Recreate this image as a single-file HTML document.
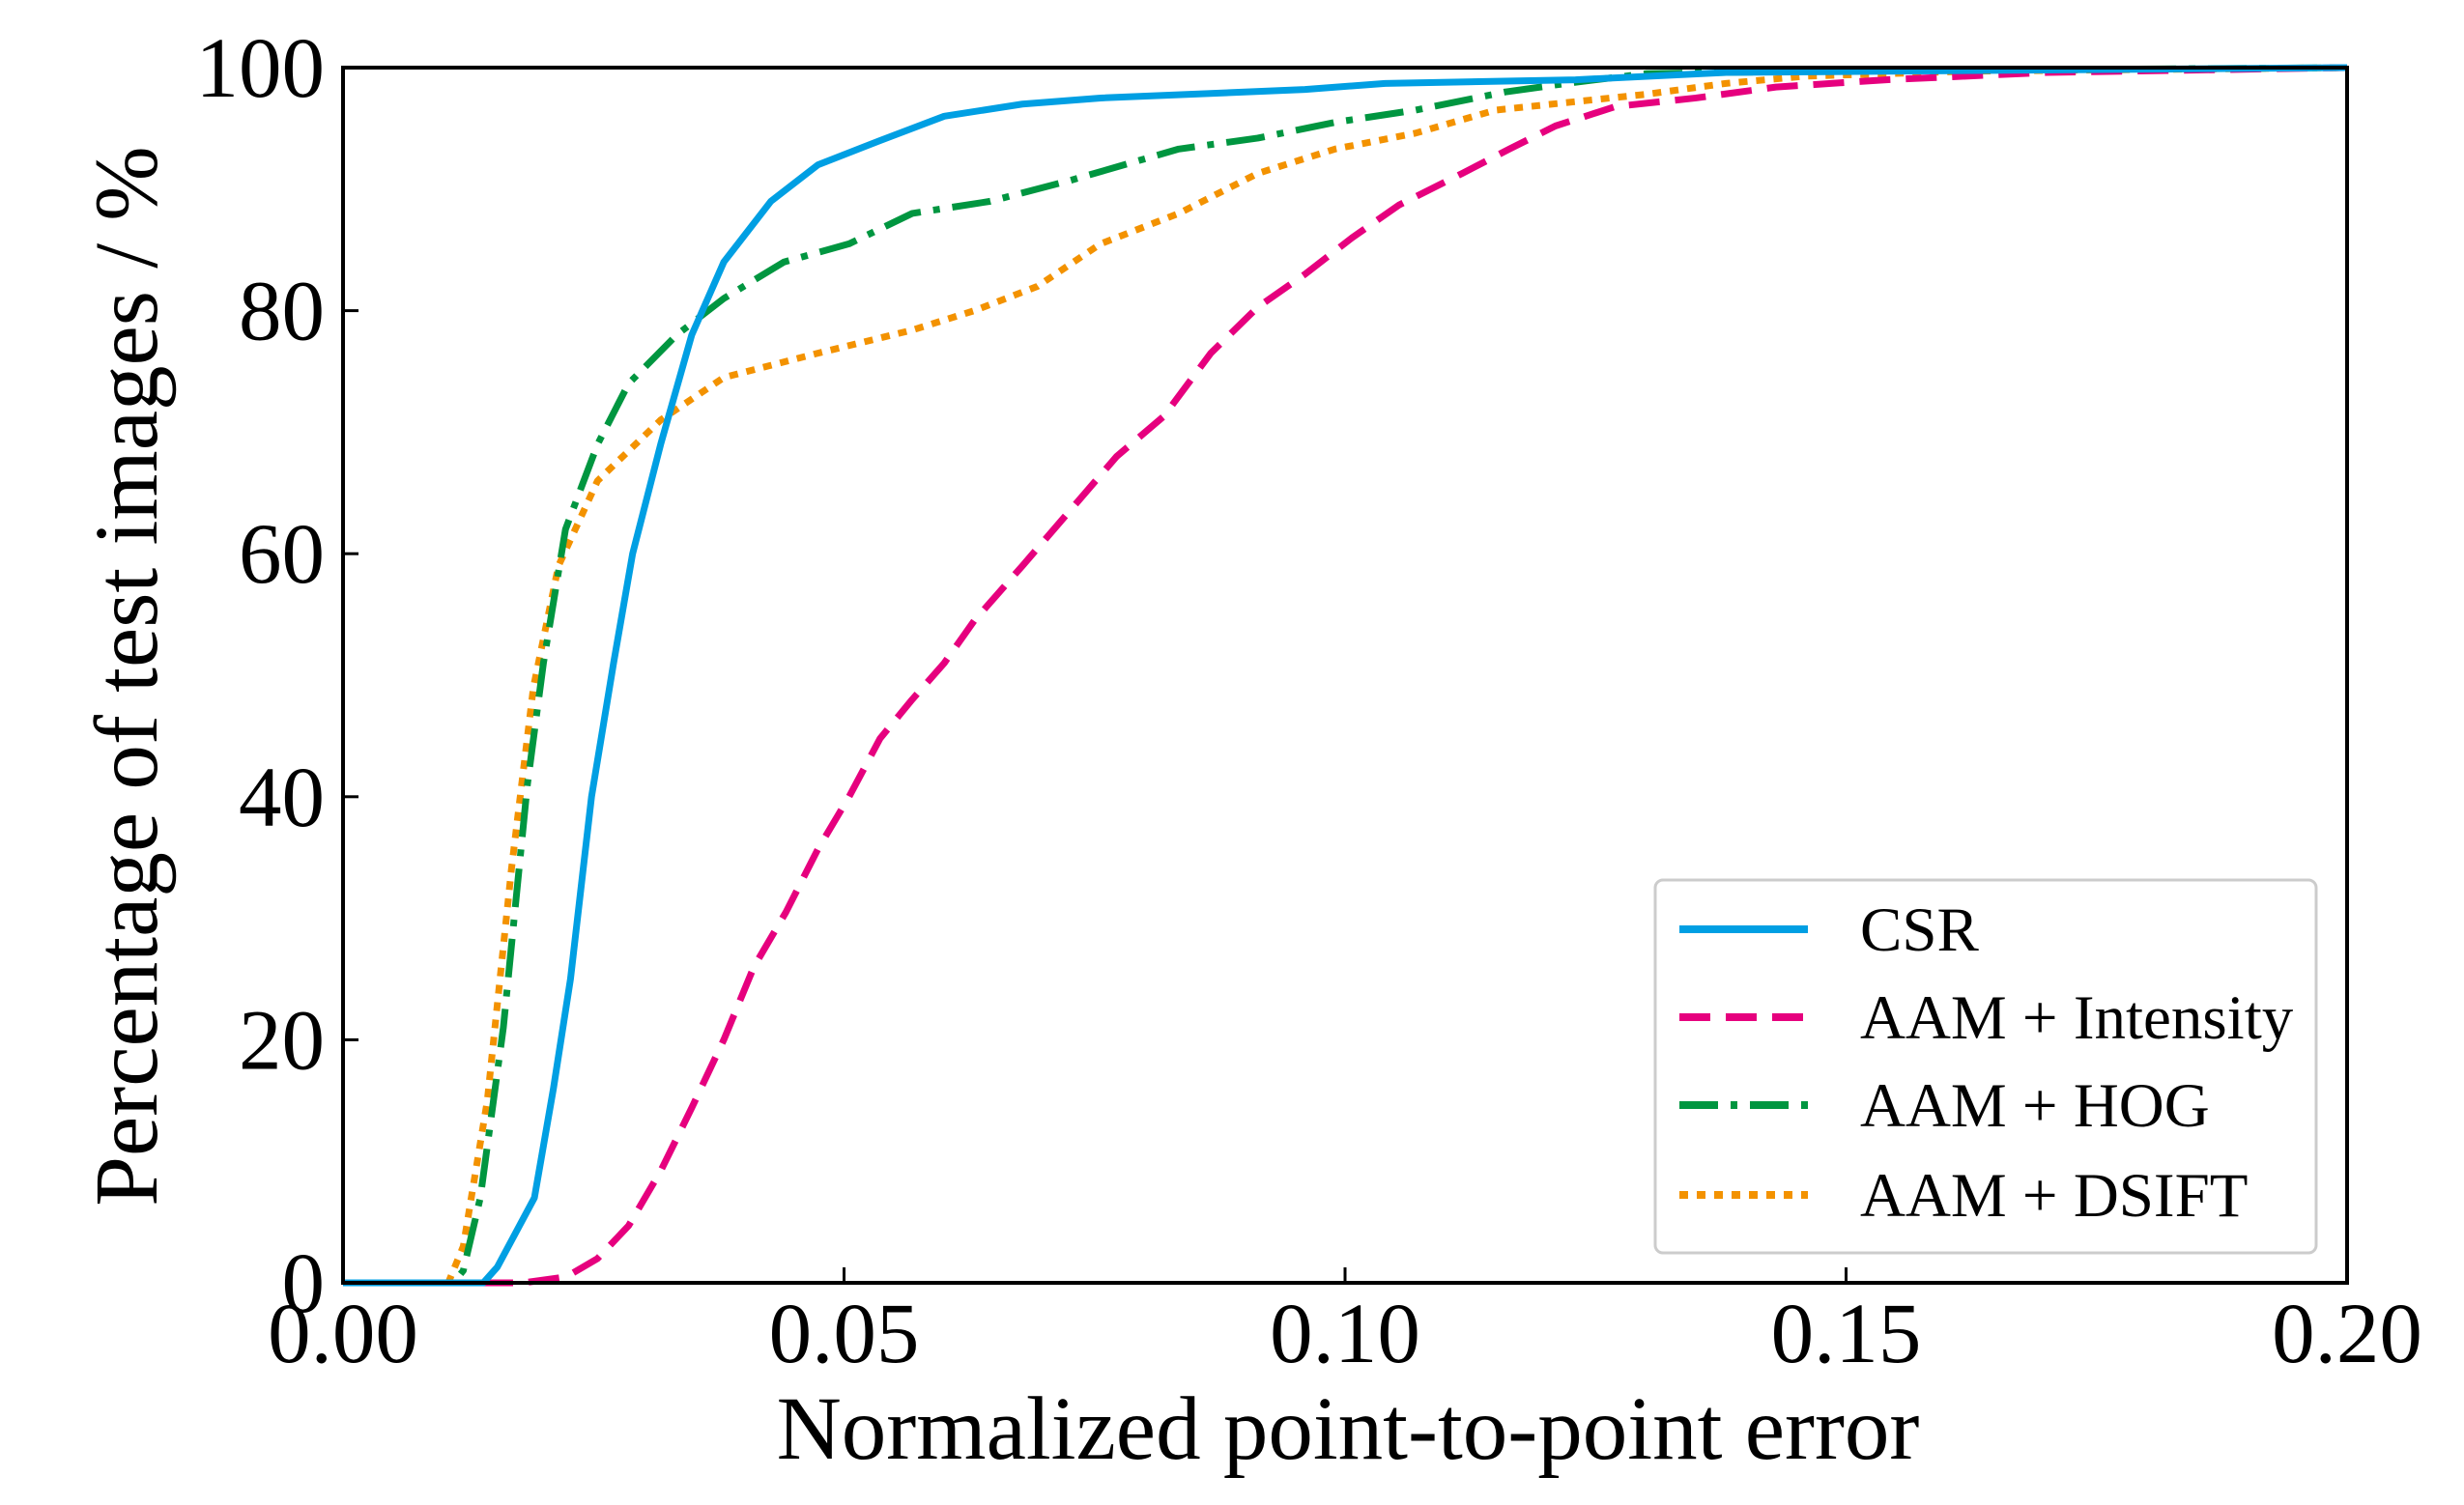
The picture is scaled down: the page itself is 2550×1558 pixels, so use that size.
<!DOCTYPE html>
<html><head><meta charset="utf-8"><style>
html,body{margin:0;padding:0;background:#fff}
svg{display:block;font-family:"Liberation Serif",serif}
</style></head><body>
<svg id="chart" width="2550" height="1558" viewBox="0 0 2550 1558" xmlns="http://www.w3.org/2000/svg">
<g id="series"></g>
<g id="axes"></g>
<g id="legend"></g>
</svg>
<script>
const csrX=[0,0.014,0.0154,0.0191,0.021,0.0227,0.0248,0.027,0.0289,0.0317,0.0348,0.038,0.0427,0.0474,0.0536,0.06,0.0678,0.0756,0.096,0.104,0.123,0.138,0.2];
const csrY=[0,0,1.3,7,16,25,40,51,60,69,78,84,89,92,94,96,97,97.5,98.2,98.7,99,99.6,100];
const intX=[0,0.018,0.0223,0.0254,0.0285,0.0317,0.0348,0.038,0.041,0.0442,0.0474,0.0505,0.0536,0.0568,0.06,0.063,0.0678,0.0725,0.0772,0.0819,0.0866,0.0913,0.096,0.1007,0.1054,0.1117,0.1164,0.121,0.127,0.135,0.143,0.154,0.17,0.2];
const intY=[0,0,0.5,2,4.7,9.2,14.4,20,26,30.5,35.7,40,44.8,48,51,54.5,59,63.5,68,71.3,76.5,80.3,83,86,88.7,91.3,93.3,95.2,96.8,97.5,98.4,99,99.6,100];
const hogX=[0,0.011,0.012,0.0137,0.016,0.0184,0.02,0.0222,0.0254,0.0285,0.0333,0.038,0.044,0.0505,0.0568,0.0646,0.0725,0.0834,0.0913,0.099,0.107,0.116,0.123,0.13,0.146,0.2];
const hogY=[0,0,1,7,21,41,51,62,69,74,78,81,84,85.5,88,89,90.7,93.3,94.2,95.5,96.5,98,98.8,99.5,99.7,100];
const dsX=[0,0.0105,0.012,0.0144,0.0168,0.019,0.0215,0.0254,0.0317,0.038,0.0474,0.0568,0.063,0.0693,0.0756,0.0834,0.0913,0.099,0.107,0.115,0.123,0.13,0.138,0.146,0.162,0.2];
const dsY=[0,0,3,15,34,49,59,66,71,74.5,76.5,78.4,80,82,85.5,88,91.3,93.3,94.6,96.5,97.2,97.8,98.7,99.3,99.7,100];
const xTicks=[0,0.05,0.1,0.15,0.2];
const xTickLabels=["0.00","0.05","0.10","0.15","0.20"];
const yTicks=[0,20,40,60,80,100];
const yTickLabels=["0","20","40","60","80","100"];
const legendLabels=["CSR","AAM + Intensity","AAM + HOG","AAM + DSIFT"];

const NS="http://www.w3.org/2000/svg";
const X0=355,X1=2429,Y0=1328,Y1=70;
const sx=v=>X0+(v-0)/(0.2)*(X1-X0);
const sy=v=>Y0-(v/100)*(Y0-Y1);
function mk(tag,attrs,parent){const e=document.createElementNS(NS,tag);for(const k in attrs)e.setAttribute(k,attrs[k]);parent.appendChild(e);return e;}
const styles=[
 {c:"#009fe3",d:"",w:7,name:"csr-line"},
 {c:"#e6007e",d:"32 16",w:7,name:"aam-intensity-line"},
 {c:"#009640",d:"40 13 7 13",w:7,name:"aam-hog-line"},
 {c:"#f39200",d:"9 9",w:7,name:"aam-dsift-line"}];
const data=[[csrX,csrY],[intX,intY],[hogX,hogY],[dsX,dsY]];
const sg=document.getElementById('series');
[3,2,1,0].forEach(i=>{
 const [xs,ys]=data[i];
 const p=mk('polyline',{points:xs.map((x,j)=>sx(x)+','+sy(ys[j])).join(' '),fill:'none',stroke:styles[i].c,'stroke-width':styles[i].w,'stroke-dasharray':styles[i].d,'stroke-linejoin':'round'},sg);
 
 
});
const ax=document.getElementById('axes');
const fr=mk('rect',{x:X0,y:Y1,width:X1-X0,height:Y0-Y1,fill:'none',stroke:'#000','stroke-width':4},ax);


xTicks.forEach((v,i)=>{
 const t=mk('line',{x1:sx(v),x2:sx(v),y1:Y0,y2:Y0-16,stroke:'#000','stroke-width':3},ax);
 
 
 const l=mk('text',{x:sx(v),y:1410,'font-size':89,'text-anchor':'middle'},ax);
 l.textContent=xTickLabels[i];
 
 
});
yTicks.forEach((v,i)=>{
 const t=mk('line',{x1:X0,x2:X0+16,y1:sy(v),y2:sy(v),stroke:'#000','stroke-width':3},ax);
 
 
 const l=mk('text',{x:336,y:sy(v)+30,'font-size':89,'text-anchor':'end'},ax);
 l.textContent=yTickLabels[i];
 
 
});
const xl=mk('text',{x:1395,y:1510,'font-size':93,'text-anchor':'middle'},ax);
xl.textContent='Normalized point-to-point error';


const yl=mk('text',{x:0,y:0,'font-size':93,'text-anchor':'middle',transform:'translate(162,700) rotate(-90)'},ax);
yl.textContent='Percentage of test images / %';


const lg=document.getElementById('legend');
const box=mk('rect',{x:1713,y:911,width:684,height:386,rx:8,fill:'#fff',stroke:'#ccc','stroke-width':3},lg);


const ly=[962,1053,1144,1237];
legendLabels.forEach((lab,i)=>{
 const g=mk('g',{},lg);
 
 
 mk('line',{x1:1738,x2:1871,y1:ly[i],y2:ly[i],stroke:styles[i].c,'stroke-width':8,'stroke-dasharray':styles[i].d},g);
 const t=mk('text',{x:1925,y:ly[i]+22,'font-size':65},g);
 t.textContent=lab;
});
</script>
</body></html>
